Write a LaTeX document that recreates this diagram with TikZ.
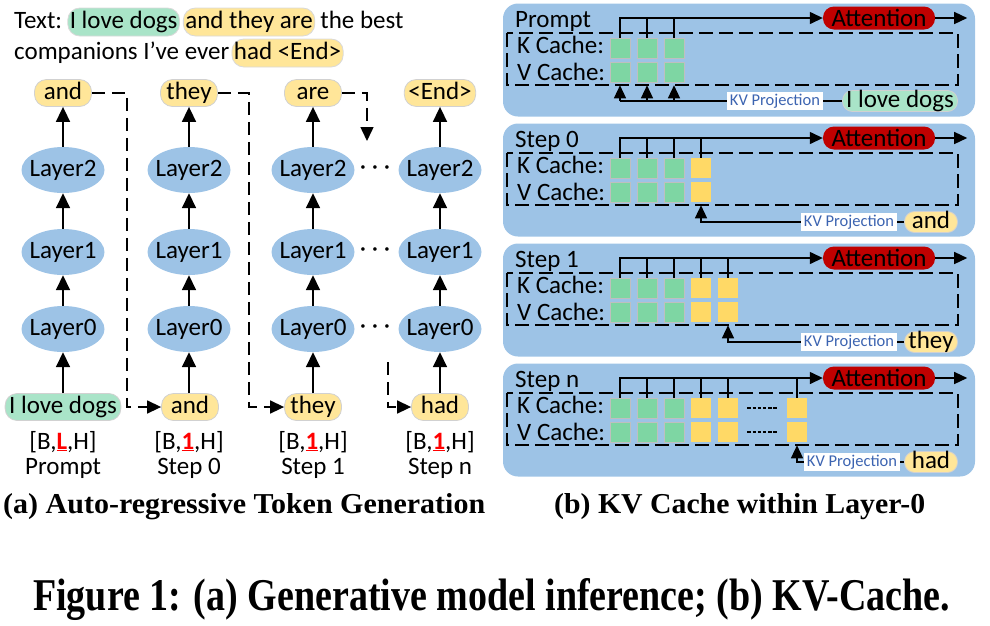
\documentclass[tikz,border=0pt]{standalone}
\usepackage{fontspec}
\usepackage{graphicx}
\setmainfont{Carlito}
\newfontfamily\capfont{Liberation Serif}
\usetikzlibrary{arrows.meta,shapes.geometric,positioning}
\definecolor{layerblue}{HTML}{9DC3E6}
\definecolor{panelblue}{HTML}{9DC3E6}
\definecolor{tokyellow}{HTML}{FFE699}
\definecolor{tokgreen}{HTML}{A9E4C8}
\definecolor{cellgreen}{HTML}{7ED6A3}
\definecolor{cellyellow}{HTML}{FFD966}
\definecolor{attnred}{HTML}{C00000}
\definecolor{projblue}{HTML}{3C64B1}
\newcommand{\seqdim}[1]{\textcolor{red}{\underline{\textbf{#1}}}}

\tikzset{
  every node/.style={font=\fontsize{25}{29}\selectfont},
  lbl/.style={anchor=base west, inner sep=0pt},
  layer/.style={ellipse, fill=layerblue, minimum width=83pt, minimum height=46pt, inner xsep=-14pt, inner ysep=0pt},
  tok/.style={rectangle, rounded corners=12pt, draw=black!18, line width=0.8pt, minimum height=27pt, minimum width=57pt, inner xsep=4pt, inner ysep=0pt, text height=17pt, text depth=5pt},
  ytok/.style={tok, fill=tokyellow},
  gtok/.style={tok, fill=tokgreen},
  small/.style={rounded corners=10pt, minimum height=21pt, minimum width=53pt, inner xsep=3pt, text height=16pt, text depth=4pt},
  hl/.style={anchor=base west, rectangle, rounded corners=12pt, draw=black!15, line width=0.8pt, inner xsep=2pt, inner ysep=3pt, text height=17pt, text depth=5pt},
  hlg/.style={hl, fill=tokgreen},
  hly/.style={hl, fill=tokyellow},
  uparrow/.style={line width=1.7pt, -{Triangle[width=14pt,length=15pt]}},
  dashline/.style={line width=1.5pt, dash pattern=on 13pt off 7pt, -{Triangle[width=13pt,length=14pt]}},
  panel/.style={rectangle, rounded corners=15pt, fill=panelblue, minimum width=472pt, minimum height=113pt},
  kvframe/.style={line width=1.6pt, dash pattern=on 14pt off 6pt},
  gcell/.style={rectangle, fill=cellgreen, draw=black!25, line width=0.6pt, minimum size=20pt, inner sep=0pt},
  ycell/.style={gcell, fill=cellyellow, draw=none},
  attn/.style={rectangle, rounded corners=11pt, fill=attnred, minimum width=112pt, minimum height=23pt, inner sep=0pt},
  proj/.style={fill=white, text=projblue, font=\fontsize{16.5}{18}\selectfont, inner xsep=2.5pt, inner ysep=1.5pt},
  tick/.style={line width=1.4pt},
  thinarrow/.style={line width=1.4pt, -{Triangle[width=12pt,length=13pt]}},
}

\begin{document}
\begin{tikzpicture}[x=1pt,y=-1pt]
\useasboundingbox (0,0) rectangle (990,625);

\node[lbl] (txtA) at (14,28) {Text:};
\node[hlg] (hA) at ([xshift=5pt]txtA.base east) {I love dogs};
\node[hly] (hB) at ([xshift=3pt]hA.base east) {and they are};
\node[lbl] (txtB) at ([xshift=5pt]hB.base east) {the best};
\node[lbl] (txtC) at (14,59) {companions I’ve ever};
\node[hly] (hC) at ([xshift=2pt]txtC.base east) {had <End>};

\node[ytok] (oA) at (63,93) {and};
\node[ytok] (oB) at (189,93) {they};
\node[ytok] (oC) at (313,93) {are};
\node[ytok, minimum width=65pt] (oD) at (440,93) {<End>};

\foreach \c/\x in {a/63,b/189,c/313,d/440}{
  \node[layer] (\c2) at (\x,170) {Layer2};
  \node[layer] (\c1) at (\x,252) {Layer1};
  \node[layer] (\c0) at (\x,329) {Layer0};
}

\node[gtok, minimum width=110pt] (iA) at (63,407) {I love dogs};
\node[ytok] (iB) at (190,407) {and};
\node[ytok] (iC) at (313,407) {they};
\node[ytok] (iD) at (440,407) {had};

\node[anchor=base] (sA) at (63,449) {[B,\seqdim{L},H]};
\node[anchor=base] (sB) at (189,449) {[B,\seqdim{1},H]};
\node[anchor=base] (sC) at (313,449) {[B,\seqdim{1},H]};
\node[anchor=base] (sD) at (440,449) {[B,\seqdim{1},H]};
\node[anchor=base] (nA) at (63,474) {Prompt};
\node[anchor=base] (nB) at (189,474) {Step 0};
\node[anchor=base] (nC) at (313,474) {Step 1};
\node[anchor=base] (nD) at (440,474) {Step n};

\foreach \c/\i/\o in {a/iA/oA,b/iB/oB,c/iC/oC,d/iD/oD}{
  \draw[uparrow] (\i.north -| \c0) -- (\c0);
  \draw[uparrow] (\c0) -- (\c1);
  \draw[uparrow] (\c1) -- (\c2);
  \draw[uparrow] (\c2) -- (\o);
}

\foreach \y in {170,252,329}
  \node (dots\y) at (375,\y) {\textperiodcentered\ \textperiodcentered\ \textperiodcentered};

\coordinate (dA) at (127,93);
\coordinate (dB) at (249,93);
\coordinate (dC) at (367,93);
\coordinate (eC) at (367,141);
\coordinate (dD) at (388,362);
\draw[dashline] (oA.east) -- (dA) |- (iB.west);
\draw[dashline] (oB.east) -- (dB) |- (iC.west);
\draw[dashline] (oC.east) -- (dC) -- (eC);
\draw[dashline] (dD) |- (iD.west);

\foreach \s/\oy/\lab in {A/0/Prompt, B/120/Step 0, C/240/Step 1, D/360/Step n}{
  \begin{scope}[yshift=-\oy pt]
    \node[panel] (p\s) at (739,60) {};
    \node[lbl] (l\s) at (515,27) {\lab};
    \draw[kvframe] (507,33) rectangle (958,85);
    \node[lbl] (k\s) at (517,53) {K Cache:};
    \node[lbl] (v\s) at (517,80) {V Cache:};
    \node[attn] (at\s) at (879,18) {Attention};
    \foreach \i/\x in {1/620,2/647,3/674}{
      \node[gcell] (k\s\i) at (\x,48) {};
      \node[gcell] (v\s\i) at (\x,72) {};
      \draw[tick] (k\s\i.north) -- (k\s\i.north |- at\s.west);
    }
    \draw[thinarrow] (k\s1.north) |- (at\s.west);
    \draw[thinarrow] (at\s.east) -- ++(32,0);
  \end{scope}
}

\node[gtok, small, minimum width=115pt] (tA) at (900,101) {I love dogs};
\draw[tick] (tA.west) -- (vA1.south |- tA.west);
\foreach \i in {1,2,3}
  \draw[thinarrow] (vA\i.south |- tA.west) -- ([yshift=-3pt]vA\i.south);
\node[proj] (jA) at (775,101) {KV Projection};

\node[ycell] (kB4) at (701,168) {};
\node[ycell] (vB4) at (701,192) {};
\draw[tick] (kB4.north) -- (kB4.north |- atB.west);
\node[ytok, small] (tB) at (931,222) {and};
\draw[thinarrow] (tB.west) -| ([yshift=-3pt]vB4.south);
\node[proj] (jB) at (849,222) {KV Projection};

\foreach \i/\x in {4/701,5/728}{
  \node[ycell] (kC\i) at (\x,288) {};
  \node[ycell] (vC\i) at (\x,312) {};
  \draw[tick] (kC\i.north) -- (kC\i.north |- atC.west);
}
\node[ytok, small] (tC) at (931,342) {they};
\draw[thinarrow] (tC.west) -| ([yshift=-3pt]vC5.south);
\node[proj] (jC) at (849,342) {KV Projection};

\foreach \i/\x in {4/701,5/728,6/797}{
  \node[ycell] (kD\i) at (\x,408) {};
  \node[ycell] (vD\i) at (\x,432) {};
  \draw[tick] (kD\i.north) -- (kD\i.north |- atD.west);
}
\draw[line width=1.4pt, dash pattern=on 3.5pt off 1.7pt] (kD5.east) ++(9,0) -- ++(31,0);
\draw[line width=1.4pt, dash pattern=on 3.5pt off 1.7pt] (vD5.east) ++(9,0) -- ++(31,0);
\node[ytok, small] (tD) at (931,462) {had};
\draw[thinarrow] (tD.west) -| ([yshift=-3pt]vD6.south);
\node[proj] (jD) at (852,462) {KV Projection};

\node[lbl] (capA) at (3,513) {\resizebox{482pt}{20pt}{\capfont\bfseries (a) Auto-regressive Token Generation}};
\node[lbl] (capB) at (554,513) {\resizebox{371pt}{20pt}{\capfont\bfseries (b) KV Cache within Layer-0}};
\node[lbl] (fig) at (33,610) {\resizebox{917pt}{32pt}{\capfont\bfseries Figure 1: (a) Generative model inference; (b) KV-Cache.}};
\end{tikzpicture}
\end{document}
